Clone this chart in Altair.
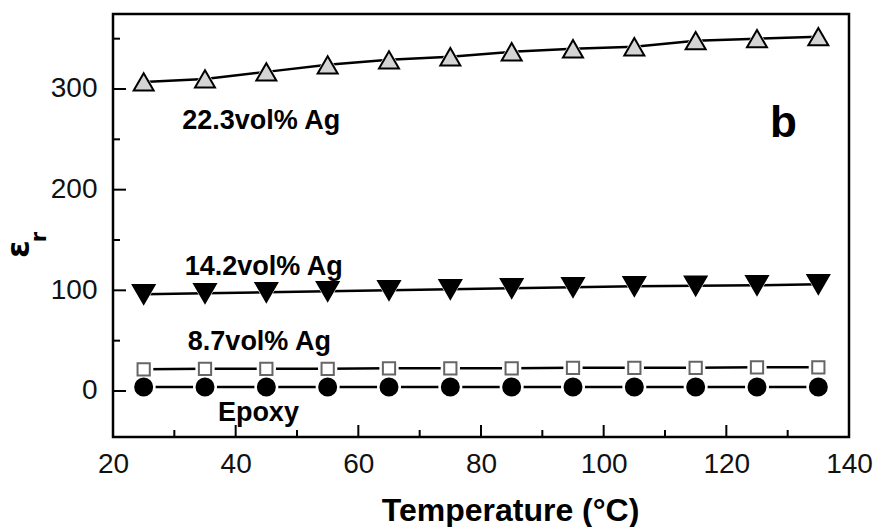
import altair as alt
import pandas as pd

# ---- data ----
temps = [25, 35, 45, 55, 65, 75, 85, 95, 105, 115, 125, 135]
ag223 = [307, 310, 317, 324, 329, 332, 337, 340, 342, 348, 350, 352]
ag142 = [96, 97, 98, 99, 100, 101, 102, 103, 104, 104.5, 105, 106]
ag87 = [21.5, 22, 22, 22, 22.5, 22.5, 22.5, 23, 23, 23, 23.5, 23.5]
epoxy = [4, 4, 4, 4, 4, 4, 4, 4, 4, 4, 4, 4]
series_names = ["22.3vol% Ag", "14.2vol% Ag", "8.7vol% Ag", "Epoxy"]

x_major = [20, 40, 60, 80, 100, 120, 140]
x_minor = [30, 50, 70, 90, 110, 130]
y_major = [0, 100, 200, 300]
y_minor = [50, 150, 250, 350]

ann_text = ["22.3vol% Ag", "14.2vol% Ag", "8.7vol% Ag", "Epoxy"]
ann_x = [31.3, 31.7, 32.2, 37.1]
ann_y = [260, 115, 41, -30]
panel_text = ["b"]
panel_x = [127.1]
panel_y = [252]

# ---- styles ----
W, H = 736, 423
FONT = "Liberation Sans"
STYLE = {
    "22.3vol% Ag": dict(shape="triangle-up", size=400, fill="#d4d4d4", stroke="black"),
    "14.2vol% Ag": dict(shape="triangle-down", size=470, fill="black", stroke="black"),
    "8.7vol% Ag": dict(shape="square", size=150, fill="white", stroke="#666666"),
    "Epoxy": dict(shape="circle", size=289, fill="black", stroke="black"),
}
HALO_GROW = 7  # px added to marker diameter for the gap around markers

rows = []
for name, vals in zip(series_names, [ag223, ag142, ag87, epoxy]):
    for t, v in zip(temps, vals):
        rows.append({"T": t, "eps": v, "series": name})
df = pd.DataFrame(rows)

xscale = alt.Scale(domain=[20, 140], nice=False, zero=False)
yscale = alt.Scale(domain=[-45.7, 374.5], nice=False, zero=False)

x_enc = alt.X("T:Q", scale=xscale, axis=alt.Axis(
    values=x_major, title="Temperature (°C)", ticks=False, tickSize=0, domain=False,
    grid=False, labelFont=FONT, labelFontSize=28, labelColor="#111", labelPadding=13,
    titleFont=FONT, titleFontSize=32, titleFontWeight="bold", titleColor="black",
    titleX=397, titleY=83, titleAlign="center", titleBaseline="alphabetic",
    labelFlush=False))
y_enc = alt.Y("eps:Q", scale=yscale, axis=alt.Axis(
    values=y_major, title="", ticks=False, tickSize=0, domain=False, grid=False,
    labelFont=FONT, labelFontSize=28, labelColor="#111", labelPadding=16,
    labelFlush=False))

layers = [alt.Chart(df).mark_line(color="black", strokeWidth=2.5).encode(
    x=x_enc, y=y_enc, detail="series:N")]

xe = alt.X("T:Q", scale=xscale)
ye = alt.Y("eps:Q", scale=yscale)
for name in series_names:
    st = STYLE[name]
    d = st["size"] ** 0.5 + HALO_GROW
    layers.append(alt.Chart(df).transform_filter(alt.datum.series == name).mark_point(
        shape=st["shape"], size=d * d, filled=True, color="white", opacity=1
    ).encode(x=xe, y=ye))
for name in series_names:
    st = STYLE[name]
    layers.append(alt.Chart(df).transform_filter(alt.datum.series == name).mark_point(
        shape=st["shape"], size=st["size"], fill=st["fill"], stroke=st["stroke"],
        strokeWidth=2, opacity=1, fillOpacity=1
    ).encode(x=xe, y=ye))

# ticks (inward)
layers += [
    alt.Chart(pd.DataFrame({"T": x_major})).mark_rule(color="black", strokeWidth=2).encode(
        x=alt.X("T:Q", scale=xscale), y=alt.value(H), y2=alt.value(H - 12)),
    alt.Chart(pd.DataFrame({"T": x_minor})).mark_rule(color="black", strokeWidth=2).encode(
        x=alt.X("T:Q", scale=xscale), y=alt.value(H), y2=alt.value(H - 7)),
    alt.Chart(pd.DataFrame({"eps": y_major})).mark_rule(color="black", strokeWidth=2).encode(
        y=alt.Y("eps:Q", scale=yscale), x=alt.value(0), x2=alt.value(13)),
    alt.Chart(pd.DataFrame({"eps": y_minor})).mark_rule(color="black", strokeWidth=2).encode(
        y=alt.Y("eps:Q", scale=yscale), x=alt.value(0), x2=alt.value(7)),
]

layers.append(alt.Chart(pd.DataFrame({"t": ann_text, "T": ann_x, "eps": ann_y})).mark_text(
    font=FONT, fontSize=27, fontWeight="bold", align="left", baseline="alphabetic",
    color="black").encode(x=xe, y=ye, text="t:N"))

layers.append(alt.Chart(pd.DataFrame({"t": panel_text, "T": panel_x, "eps": panel_y})).mark_text(
    font=FONT, fontSize=44, fontWeight="bold", align="left", baseline="alphabetic",
    color="black").encode(x=xe, y=ye, text="t:N"))

# y-axis title: epsilon with subscript r (rotated)
one = pd.DataFrame({"a": [0]})
layers.append(alt.Chart(one).mark_text(
    font="DejaVu Sans", fontSize=32, fontWeight="bold", angle=270,
    align="center", baseline="middle", color="black").encode(
    x=alt.value(-94), y=alt.value(235), text=alt.value("ε")))
layers.append(alt.Chart(one).mark_text(
    font="DejaVu Sans", fontSize=21, fontWeight="bold", angle=270,
    align="center", baseline="middle", color="black").encode(
    x=alt.value(-73), y=alt.value(223), text=alt.value("r")))

chart = alt.layer(*layers).properties(
    width=W, height=H,
    autosize=alt.AutoSizeParams(type="none"),
    padding={"left": 113, "top": 14, "right": 30, "bottom": 90},
    background="white",
).configure_view(stroke="black", strokeWidth=2.5)

chart.save("out.html", embed_options={"renderer": "svg", "actions": False})
